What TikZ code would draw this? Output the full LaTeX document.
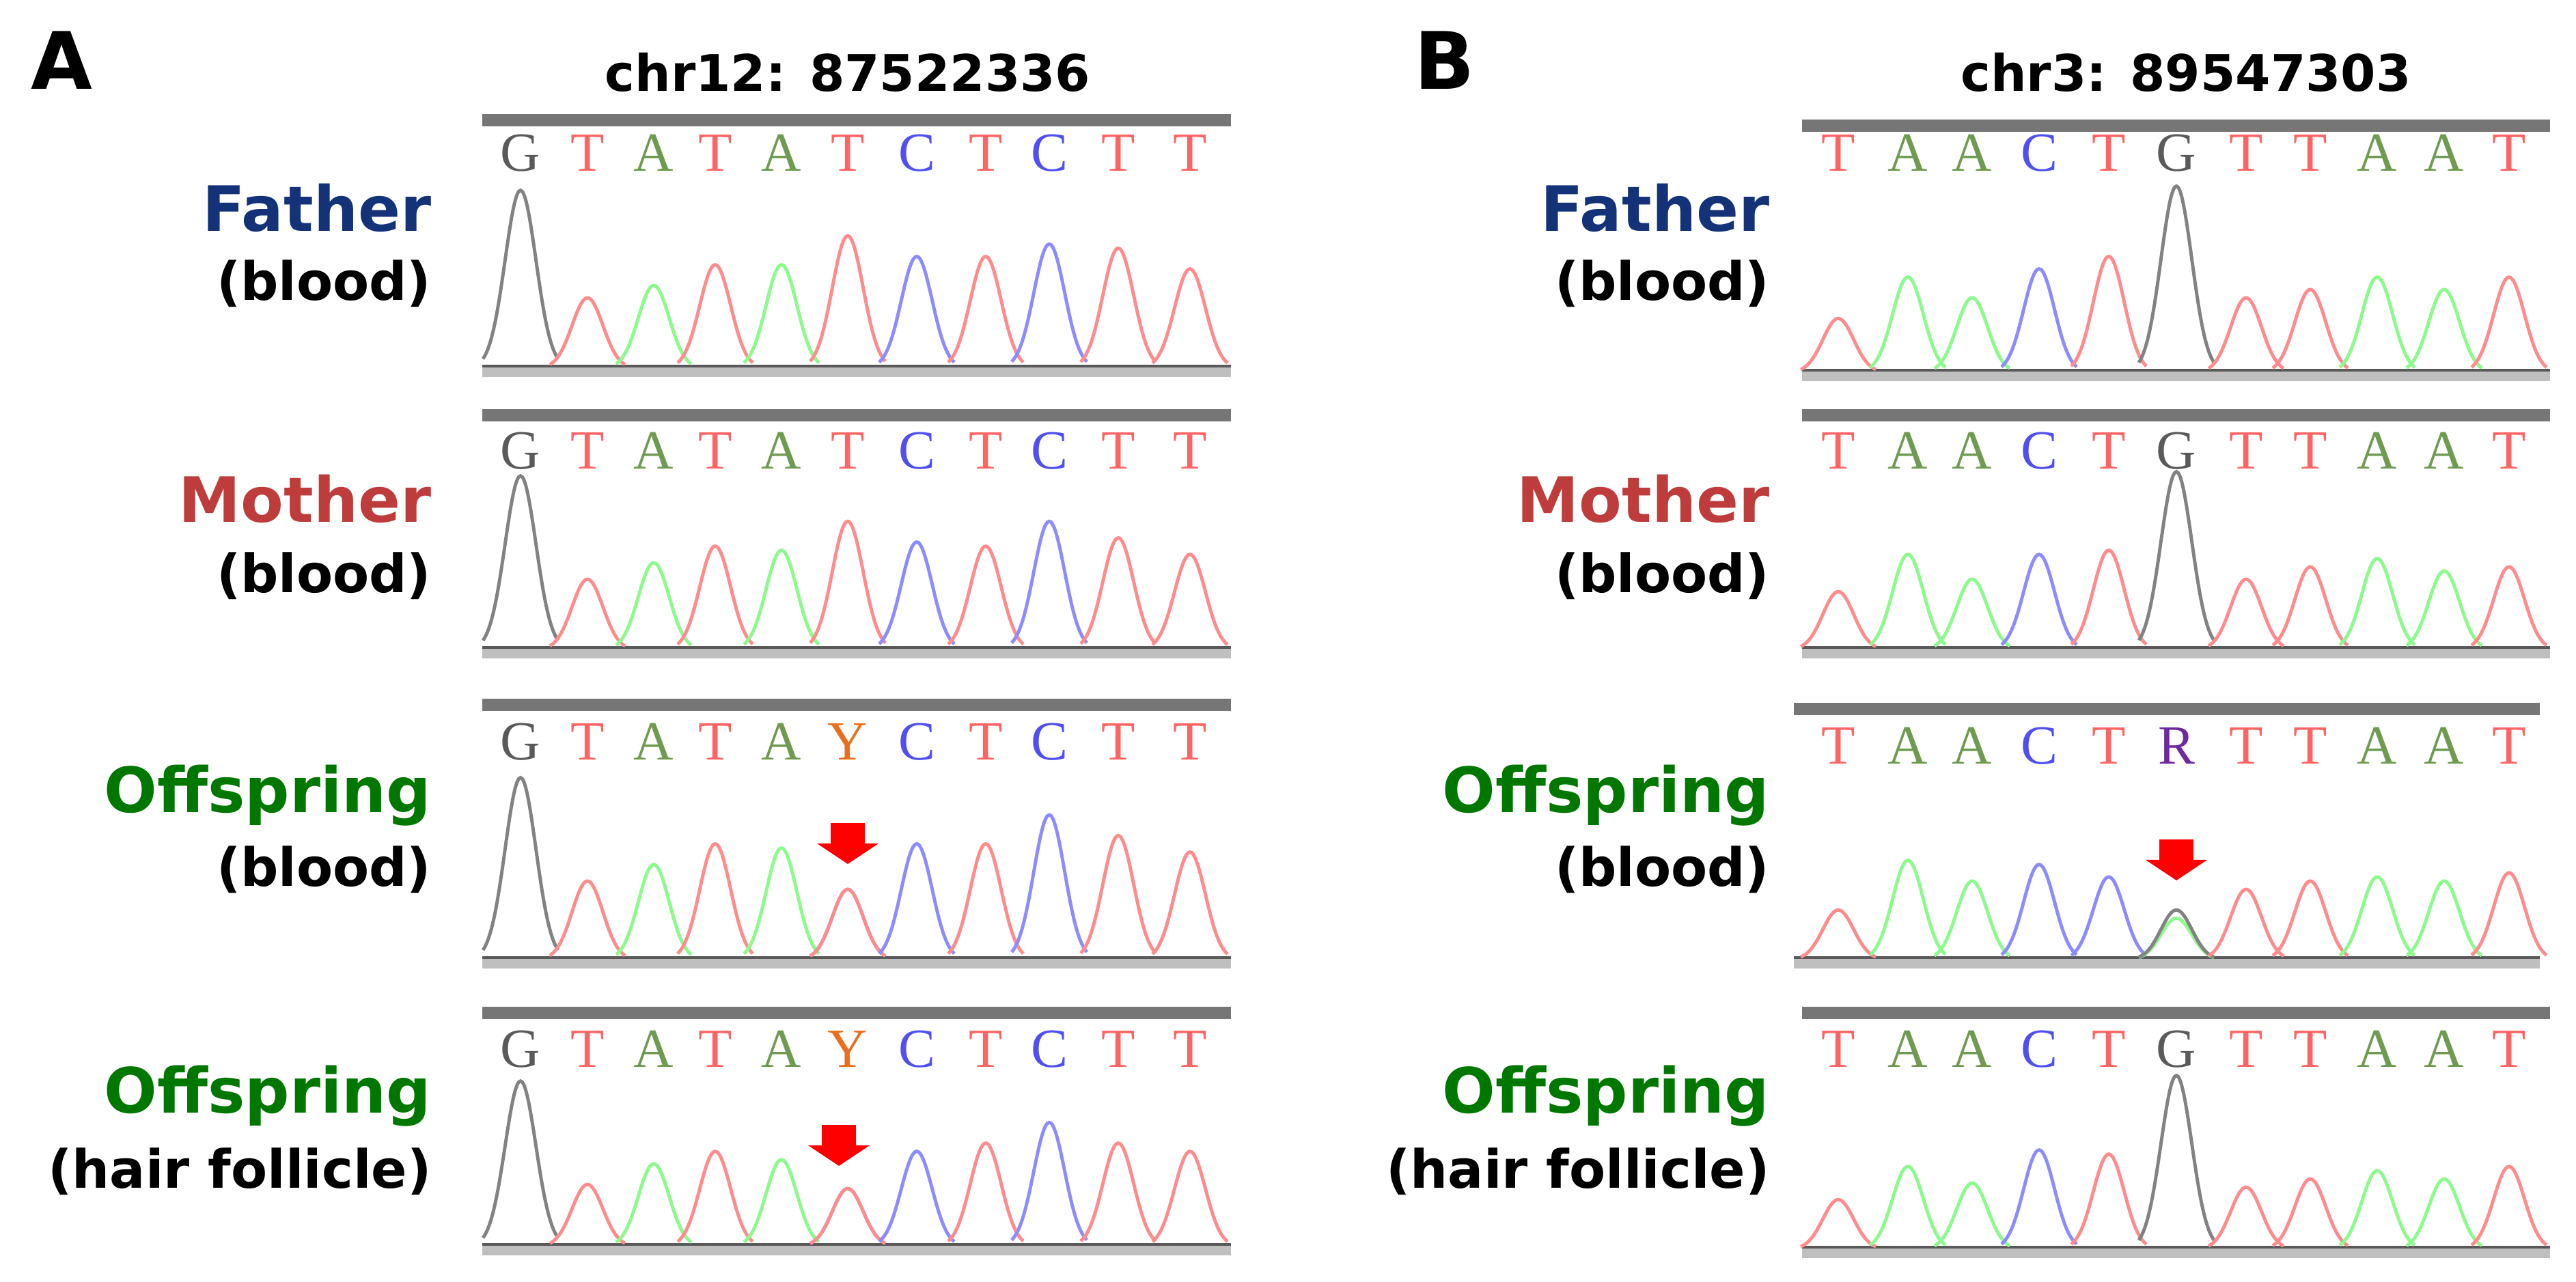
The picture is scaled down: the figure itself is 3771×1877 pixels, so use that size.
\documentclass[tikz,border=0pt]{standalone}
\usepackage{fontspec}
\setmainfont{DejaVu Sans}
\newfontfamily\monof{Liberation Serif}
\definecolor{tr}{RGB}{255,140,140}
\definecolor{tg}{RGB}{140,250,140}
\definecolor{tb}{RGB}{140,140,255}
\definecolor{tk}{RGB}{130,130,130}
\definecolor{lT}{RGB}{255,100,100}
\definecolor{lA}{RGB}{110,155,80}
\definecolor{lC}{RGB}{80,80,240}
\definecolor{lG}{RGB}{90,90,90}
\definecolor{lY}{RGB}{235,110,30}
\definecolor{lR}{RGB}{110,40,160}
\definecolor{cF}{RGB}{20,50,120}
\definecolor{cM}{RGB}{190,60,60}
\definecolor{cO}{RGB}{0,120,0}
\newcommand\pk[4]{\draw[#4,line width=1.4pt] plot[domain=#1-55:#1+55,samples=45,smooth] (\x,{#2-1.211*#3*exp(-((\x-#1)/32)^2)});}
\newcommand\frameline[4]{\draw[line width=5pt,tk!110] (#1,#3) -- (#2,#3);\draw[line width=3pt,black!65] (#1,#4) -- (#2,#4);\draw[line width=4pt,black!25] (#1,#4+6) -- (#2,#4+6);}
\newcommand\redarrow[2]{\fill[red] (#1-25,#2) rectangle (#1+25,#2+32);\fill[red] (#1-45,#2+30) -- (#1+45,#2+30) -- (#1,#2+60) -- cycle;}
\tikzset{
  lab/.style={anchor=base east,font=\fontsize{26}{30}\selectfont\bfseries,inner sep=0},
  sub/.style={anchor=base east,font=\fontsize{22}{26}\selectfont\bfseries,inner sep=0},
  base/.style={font=\monof\fontsize{23}{25}\selectfont,inner sep=0,anchor=center},
  ttl/.style={font=\fontsize{21}{24}\selectfont\bfseries,inner sep=0},
  pnl/.style={font=\fontsize{33}{36}\selectfont\bfseries,inner sep=0,anchor=north west}
}
\begin{document}
\begin{tikzpicture}[x=0.01cm,y=-0.01cm]
\useasboundingbox (0,0) rectangle (3771,1877);
\node[pnl] (pA) at (45,45) {A};
\node[pnl] (pB) at (2070,45) {B};
\node[ttl] (tA) at (1241,106) {chr12: 87522336};
\node[ttl] (tB) at (3200,106) {chr3: 89547303};
% labels
\foreach \lx/\nm in {632/A,2591/B}{
 \node[lab,text=cF] (fa\nm) at (\lx,339) {Father};
 \node[sub] (fab\nm) at (\lx,440) {(blood)};
 \node[lab,text=cM] (mo\nm) at (\lx,765) {Mother};
 \node[sub] (mob\nm) at (\lx,868) {(blood)};
 \node[lab,text=cO] (of\nm) at (\lx,1190) {Offspring};
 \node[sub] (ofb\nm) at (\lx,1298) {(blood)};
 \node[lab,text=cO] (oh\nm) at (\lx,1630) {Offspring};
 \node[sub] (ohb\nm) at (\lx,1740) {(hair follicle)};
}
% ---------- Panel A ----------
\frameline{706}{1802}{176}{539}
\frameline{706}{1802}{608}{951}
\frameline{706}{1802}{1032}{1405}
\frameline{706}{1802}{1483}{1825}
\foreach \y/\m [count=\r] in {224/T,660/T,1086/Y,1536/Y}{
 \foreach \px/\L/\c [count=\i] in {762/G/lG,860/T/lT,957/A/lA,1047/T/lT,1144/A/lA,1241/\m/lT,1342/C/lC,1443/T/lT,1536/C/lC,1637/T/lT,1742/T/lT}{
  \ifnum\i=6 \ifnum\r>2 \node[base,text=lY] (a\r-\i) at (\px,\y) {\L};\else\node[base,text=\c] (a\r-\i) at (\px,\y) {\L};\fi
  \else \node[base,text=\c] (a\r-\i) at (\px,\y) {\L};\fi
 }
}
\foreach \px/\h/\c in {762/215/tk,860/85/tr,957/100/tg,1047/125/tr,1144/125/tg,1241/160/tr,1342/135/tb,1443/135/tr,1536/150/tb,1637/145/tr,1742/120/tr}{\pk{\px}{539}{\h}{\c}}
\foreach \px/\h/\c in {762/210/tk,860/85/tr,957/105/tg,1047/125/tr,1144/120/tg,1241/155/tr,1342/130/tb,1443/125/tr,1536/155/tb,1637/135/tr,1742/115/tr}{\pk{\px}{951}{\h}{\c}}
\foreach \px/\h/\c in {762/220/tk,860/95/tr,957/115/tg,1047/140/tr,1144/135/tg,1241/85/tb,1241/85/tr,1342/140/tb,1443/140/tr,1536/175/tb,1637/150/tr,1742/130/tr}{\pk{\px}{1405}{\h}{\c}}
\foreach \px/\h/\c in {762/200/tk,860/75/tr,957/100/tg,1047/115/tr,1144/105/tg,1241/70/tb,1241/70/tr,1342/115/tb,1443/125/tr,1536/150/tb,1637/125/tr,1742/115/tr}{\pk{\px}{1825}{\h}{\c}}
\redarrow{1241}{1205}
\redarrow{1228}{1647}
% ---------- Panel B ----------
\frameline{2638}{3733}{184}{545}
\frameline{2638}{3733}{608}{951}
\frameline{2626}{3718}{1038}{1405}
\frameline{2638}{3733}{1483}{1829}
\foreach \y/\m [count=\r] in {224/G,660/G,1092/R,1536/G}{
 \foreach \px/\L/\c [count=\i] in {2691/T/lT,2793/A/lA,2887/A/lA,2985/C/lC,3087/T/lT,3186/\m/lG,3288/T/lT,3382/T/lT,3480/A/lA,3578/A/lA,3673/T/lT}{
  \ifnum\i=6 \ifnum\r=3 \node[base,text=lR] (b\r-\i) at (\px,\y) {\L};\else\node[base,text=\c] (b\r-\i) at (\px,\y) {\L};\fi
  \else \node[base,text=\c] (b\r-\i) at (\px,\y) {\L};\fi
 }
}
\foreach \px/\h/\c in {2691/65/tr,2793/115/tg,2887/90/tg,2985/125/tb,3087/140/tr,3186/225/tk,3288/90/tr,3382/100/tr,3480/115/tg,3578/100/tg,3673/115/tr}{\pk{\px}{545}{\h}{\c}}
\foreach \px/\h/\c in {2691/70/tr,2793/115/tg,2887/85/tg,2985/115/tb,3087/120/tr,3186/215/tk,3288/85/tr,3382/100/tr,3480/110/tg,3578/95/tg,3673/100/tr}{\pk{\px}{951}{\h}{\c}}
\foreach \px/\h/\c in {2691/60/tr,2793/120/tg,2887/95/tg,2985/115/tb,3087/100/tb,3186/50/tg,3186/60/tk,3288/85/tr,3382/95/tr,3480/100/tg,3578/95/tg,3673/105/tr}{\pk{\px}{1405}{\h}{\c}}
\foreach \px/\h/\c in {2691/60/tr,2793/100/tg,2887/80/tg,2985/120/tb,3087/115/tr,3186/210/tk,3288/75/tr,3382/85/tr,3480/95/tg,3578/85/tg,3673/100/tr}{\pk{\px}{1829}{\h}{\c}}
\redarrow{3186}{1229}
\end{tikzpicture}
\end{document}
